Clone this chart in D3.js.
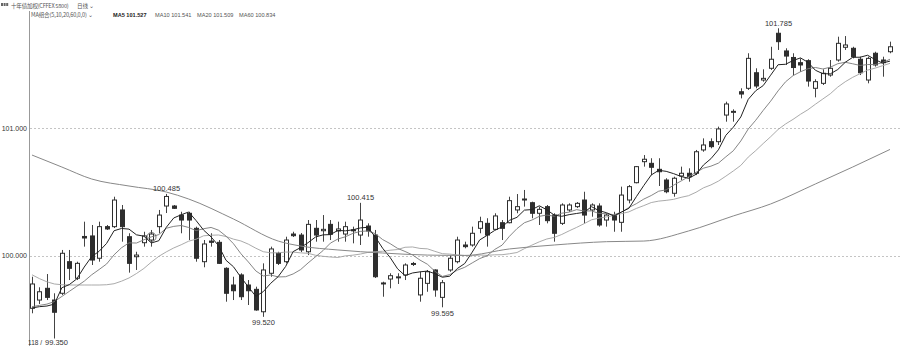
<!DOCTYPE html>
<html>
<meta charset='utf-8'>
<title>十年债加权 日线</title>
<style>
  body { margin: 0; background: #fff; }
  svg { display: block; font-family: 'Liberation Sans', Arial, sans-serif; }
  .axis path, .axis line { display: none; }
  .axis text { font-size: 7px; fill: #333; }
  .grid line { stroke: #c4c4c4; stroke-dasharray: 2,2; }
  .ma { fill: none; }
  .hdr { font-size: 5.6px; fill: #555; }
  .mark { font-size: 7.5px; fill: #333; text-anchor: middle; }
</style>
<script src='https://d3js.org/d3.v7.min.js'></script>
<body>
<script>

// daily OHLC
var opens = [99.587,99.652,99.744,99.652,99.705,99.953,99.823,100.151,100.155,99.980,
  100.228,100.228,100.359,100.149,99.992,100.102,100.123,100.228,100.390,100.390,
  100.319,100.333,100.215,99.953,100.115,100.105,99.901,99.770,99.849,99.770,
  99.736,99.560,99.862,100.019,99.953,100.170,100.162,100.031,100.215,100.196,
  100.246,100.194,100.170,100.198,100.162,100.233,100.162,99.786,99.817,99.829,
  99.849,99.935,99.692,99.783,99.888,99.673,99.888,99.953,100.084,100.084,
  100.215,100.254,100.207,100.259,100.259,100.359,100.439,100.416,100.333,100.385,
  100.319,100.254,100.359,100.385,100.437,100.359,100.390,100.280,100.314,100.262,
  100.437,100.573,100.738,100.725,100.678,100.594,100.490,100.626,100.647,100.647,
  100.830,100.895,100.895,101.104,101.128,101.287,101.314,101.436,101.379,101.471,
  101.746,101.607,101.556,101.515,101.531,101.314,101.353,101.418,101.536,101.636,
  101.628,101.542,101.379,101.589,101.536,101.601];
var highs = [99.835,99.752,99.856,99.705,100.045,100.045,99.953,100.267,100.241,100.267,
  100.241,100.463,100.398,100.176,100.031,100.188,100.202,100.359,100.485,100.398,
  100.345,100.345,100.228,100.123,100.176,100.123,99.909,99.835,99.862,99.809,
  99.757,99.940,100.071,100.031,100.149,100.188,100.178,100.280,100.280,100.319,
  100.280,100.267,100.267,100.228,100.415,100.254,100.202,99.796,99.862,99.862,
  99.940,99.951,99.874,99.888,99.893,99.809,100.005,100.149,100.110,100.228,
  100.306,100.294,100.333,100.280,100.463,100.484,100.516,100.424,100.385,100.398,
  100.333,100.411,100.411,100.421,100.502,100.411,100.411,100.333,100.345,100.542,
  100.555,100.704,100.790,100.765,100.765,100.608,100.620,100.699,100.686,100.830,
  100.921,100.921,101.013,101.209,101.149,101.314,101.589,101.471,101.463,101.640,
  101.785,101.628,101.589,101.549,101.542,101.385,101.463,101.536,101.719,101.724,
  101.640,101.562,101.562,101.601,101.562,101.680];
var lows = [99.548,99.621,99.652,99.350,99.692,99.809,99.809,100.071,99.927,99.953,
  100.202,100.217,100.110,99.867,99.888,100.071,100.071,100.176,100.335,100.367,
  100.176,100.123,99.953,99.909,100.071,99.935,99.639,99.652,99.652,99.613,
  99.568,99.520,99.835,99.927,99.940,100.147,100.029,100.005,100.110,100.110,
  100.123,100.110,100.110,100.097,100.084,100.149,99.825,99.678,99.744,99.778,
  99.809,99.919,99.639,99.717,99.678,99.595,99.874,99.940,100.058,100.071,
  100.176,100.071,100.202,100.123,100.254,100.333,100.385,100.294,100.241,100.254,
  100.110,100.241,100.345,100.374,100.254,100.306,100.228,100.228,100.188,100.188,
  100.411,100.568,100.699,100.633,100.547,100.490,100.463,100.594,100.581,100.633,
  100.816,100.843,100.869,101.052,101.052,101.235,101.301,101.314,101.366,101.458,
  101.615,101.497,101.418,101.444,101.327,101.243,101.340,101.405,101.523,101.615,
  101.549,101.418,101.353,101.484,101.405,101.589];
var closes = [99.778,99.717,99.673,99.556,100.019,99.901,99.940,100.139,99.966,100.228,
  100.210,100.437,100.228,99.940,100.005,100.155,100.170,100.319,100.465,100.372,
  100.280,100.280,99.980,100.092,100.105,99.940,99.705,99.725,99.678,99.725,
  99.574,99.888,100.053,99.940,100.123,100.157,100.045,100.246,100.162,100.207,
  100.168,100.210,100.228,100.203,100.280,100.194,99.835,99.779,99.843,99.834,
  99.927,99.939,99.823,99.874,99.731,99.788,99.980,100.123,100.071,100.176,
  100.267,100.162,100.312,100.215,100.432,100.385,100.445,100.333,100.364,100.275,
  100.176,100.398,100.398,100.411,100.319,100.398,100.241,100.319,100.280,100.476,
  100.542,100.699,100.757,100.694,100.659,100.502,100.608,100.647,100.620,100.816,
  100.869,100.856,100.995,101.191,101.133,101.269,101.549,101.332,101.392,101.542,
  101.680,101.567,101.477,101.497,101.371,101.366,101.432,101.471,101.667,101.654,
  101.562,101.436,101.549,101.497,101.515,101.640];

// start of the MA lines (history before the first candle is not on the chart)
var ma5Head = [99.590, 99.600, 99.605, 99.620];
var ma10Head = [99.600, 99.610, 99.620, 99.640, 99.680, 99.720, 99.760, 99.800, 99.850];
var ma20Head = [99.850, 99.820, 99.795, 99.778, 99.772, 99.770, 99.770, 99.770, 99.770, 99.770,
  99.772, 99.780, 99.800, 99.825, 99.860, 99.900, 99.950, 99.995, 100.030];

// MA60 read at some candles
var ma60Idx = [0, 4, 8, 13, 18, 21, 27, 33, 36, 41, 47, 53, 58, 64, 70, 77, 82, 88, 94, 99, 105, 110, 115];
var ma60Val = [100.790, 100.696, 100.602, 100.547, 100.500, 100.445, 100.288, 100.115, 100.076, 100.045,
  100.021, 100.005, 100.002, 100.053, 100.084, 100.110, 100.115, 100.194, 100.312, 100.406,
  100.563, 100.696, 100.834];

var yTicks = [100, 101];
var markHigh = [18, 44, 100];
var markLow = [3, 31, 55];
var maLabels = ['MA5 101.527', 'MA10 101.541', 'MA20 101.509', 'MA60 100.834'];

var width = 900, height = 346;

var svg = d3.select('body').append('svg')
    .attr('width', width)
    .attr('height', height);

var x = d3.scaleLinear().domain([0, closes.length - 1]).range([32, 890]);
var y = d3.scaleLinear().domain([100, 101]).range([255.7, 128.3]);

// dotted grid
svg.append('g')
    .attr('class', 'grid')
    .selectAll('line')
    .data(yTicks)
    .enter().append('line')
    .attr('x1', 30).attr('x2', width)
    .attr('y1', function(d) { return Math.round(y(d)) + 0.5; })
    .attr('y2', function(d) { return Math.round(y(d)) + 0.5; });

svg.append('g')
    .attr('class', 'axis')
    .attr('transform', 'translate(28,0)')
    .call(d3.axisLeft(y).tickValues(yTicks).tickSize(0).tickPadding(1).tickFormat(d3.format('.3f')));

svg.append('line')
    .attr('x1', 29.5).attr('x2', 29.5)
    .attr('y1', 11).attr('y2', height)
    .style('stroke', '#999');

// candles
var cx = function(i) { return Math.round(x(i)) + 0.5; };
var candle = svg.append('g')
    .selectAll('g')
    .data(d3.range(closes.length))
    .enter().append('g');

candle.append('line')
    .attr('x1', cx).attr('x2', cx)
    .attr('y1', function(i) { return y(highs[i]); })
    .attr('y2', function(i) { return y(lows[i]); })
    .style('stroke', '#444');

candle.append('rect')
    .attr('x', function(i) { return cx(i) - 2; })
    .attr('width', 4)
    .attr('y', function(i) { return y(Math.max(opens[i], closes[i])); })
    .attr('height', function(i) { return Math.max(1, Math.abs(y(opens[i]) - y(closes[i]))); })
    .style('fill', function(i) { return closes[i] >= opens[i] ? '#fff' : '#2e2e2e'; })
    .style('stroke', '#2e2e2e');

// moving averages
function movAvg(n, head) {
  return closes.map(function(c, i) {
    return i < n - 1 ? head[i] : d3.mean(closes.slice(i - n + 1, i + 1));
  });
}
var ma5 = movAvg(5, ma5Head), ma10 = movAvg(10, ma10Head), ma20 = movAvg(20, ma20Head);

var maLine = d3.line()
    .x(function(d, i) { return x(i); })
    .y(function(d) { return y(d); });

svg.append('path').attr('class', 'ma').attr('d', maLine(ma20)).style('stroke', '#a0a0a0').style('stroke-width', 0.9);
svg.append('path').attr('class', 'ma').attr('d', maLine(ma10)).style('stroke', '#777').style('stroke-width', 0.9);
svg.append('path').attr('class', 'ma').attr('d', maLine(ma5)).style('stroke', '#222').style('stroke-width', 1);

var ma60Line = d3.line()
    .curve(d3.curveMonotoneX)
    .x(function(d, k) { return x(ma60Idx[k]); })
    .y(function(d) { return y(d); });
svg.append('path').attr('class', 'ma').attr('d', ma60Line(ma60Val)).style('stroke', '#888').style('stroke-width', 1);

// little ring on one candle
svg.append('circle')
    .attr('cx', cx(16)).attr('cy', y((opens[16] + closes[16]) / 2))
    .attr('r', 4.5)
    .style('fill', 'none').style('stroke', '#555').style('stroke-width', 0.8);

// high / low marks
svg.selectAll('.mh')
    .data(markHigh)
    .enter().append('text')
    .attr('class', 'mark')
    .attr('x', cx)
    .attr('y', function(i) { return y(highs[i]) - 2.5; })
    .text(function(i) { return d3.format('.3f')(highs[i]); });

svg.selectAll('.ml')
    .data(markLow)
    .enter().append('text')
    .attr('class', 'mark')
    .attr('x', function(i) { return i == 3 ? cx(i) + 2 : cx(i); })
    .attr('y', function(i) { return Math.min(y(lows[i]) + 8.5, 344.5); })
    .text(function(i) { return d3.format('.3f')(lows[i]); });

svg.append('text')
    .attr('x', 28).attr('y', 344.5)
    .style('font-size', '6.5px').style('fill', '#333')
    .text('118 /');

// header
var icon = svg.append('g').attr('transform', 'translate(1,3)');
icon.selectAll('rect').data([0, 1, 2]).enter().append('rect')
    .attr('x', function(d) { return d * 2.6; }).attr('y', 0)
    .attr('width', 2).attr('height', 3)
    .style('fill', '#666');

svg.append('text').attr('class', 'hdr').attr('x', 11).attr('y', 7.5)
    .style('font-family', "'Noto Sans CJK SC', sans-serif")
    .style('letter-spacing', '-0.25px')
    .text('十年债加权(CFFEX 5800)');
svg.append('text').attr('class', 'hdr').attr('x', 77).attr('y', 7.5)
    .style('font-family', "'Noto Sans CJK SC', sans-serif")
    .text('日线 ⌄');

svg.append('text').attr('class', 'hdr').attr('x', 31).attr('y', 16.5)
    .style('font-family', "'Noto Sans CJK SC', sans-serif")
    .style('letter-spacing', '-0.15px')
    .text('MA组合(5,10,20,60,0,0) ⌄');

var labX = [113, 155, 197, 239];
svg.selectAll('.mal')
    .data(maLabels)
    .enter().append('text')
    .attr('class', 'hdr')
    .attr('x', function(d, i) { return labX[i]; })
    .attr('y', 16.5)
    .style('font-weight', function(d, i) { return i == 0 ? 'bold' : 'normal'; })
    .style('fill', function(d, i) { return i == 0 ? '#222' : '#555'; })
    .text(function(d) { return d; });

</script>
</body>
</html>
